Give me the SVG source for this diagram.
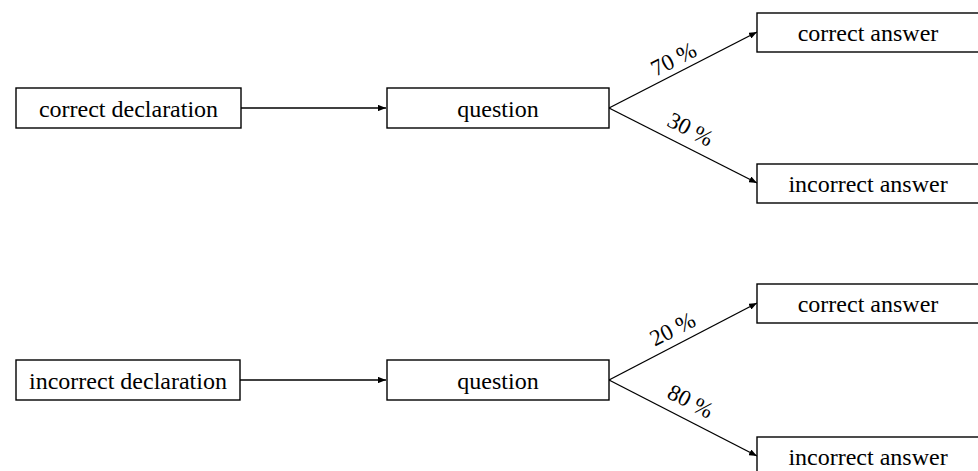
<svg xmlns="http://www.w3.org/2000/svg" width="978" height="471" viewBox="0 0 978 471">
<style>
.box{fill:#fff;stroke:#000;stroke-width:1.4}
.t{font-family:"Liberation Serif","Times New Roman",serif;font-size:24px;fill:#000;text-anchor:middle}
.p{font-family:"Liberation Serif","Times New Roman",serif;font-size:23px;fill:#000;text-anchor:middle}
.c{stroke:#000;stroke-width:1.4;fill:none;marker-end:url(#arr)}
</style>
<defs>
<marker id="arr" viewBox="0 0 10 8" refX="10" refY="4" markerWidth="8" markerHeight="6.4" markerUnits="userSpaceOnUse" orient="auto">
<path d="M0,0 L10,4 L0,8 Z" fill="#000"/>
</marker>
</defs>
<g id="connectors">
<line class="c" x1="241" y1="108" x2="386" y2="108"/>
<line class="c" x1="609" y1="108" x2="757" y2="32"/>
<line class="c" x1="609" y1="108" x2="757" y2="183"/>
<line class="c" x1="240" y1="380" x2="386" y2="380"/>
<line class="c" x1="609" y1="380" x2="757" y2="303"/>
<line class="c" x1="609" y1="380" x2="757" y2="456"/>
<text class="p" transform="translate(677,66) rotate(-27)">70 %</text>
<text class="p" transform="translate(687,136) rotate(27)">30 %</text>
<text class="p" transform="translate(676,336) rotate(-27)">20 %</text>
<text class="p" transform="translate(687,408) rotate(27)">80 %</text>
</g>
<g id="correct-declaration"><rect class="box" x="16" y="88" width="225" height="40"/><text class="t" x="128.5" y="117">correct declaration</text></g>
<g id="question-1"><rect class="box" x="387" y="88" width="222" height="40"/><text class="t" x="498" y="117">question</text></g>
<g id="correct-answer-1"><rect class="box" x="757" y="13" width="224" height="39"/><text class="t" x="868" y="41">correct answer</text></g>
<g id="incorrect-answer-1"><rect class="box" x="757" y="164" width="224" height="39"/><text class="t" x="868" y="192">incorrect answer</text></g>
<g id="incorrect-declaration"><rect class="box" x="16" y="360" width="224" height="40"/><text class="t" x="128" y="389">incorrect declaration</text></g>
<g id="question-2"><rect class="box" x="387" y="360" width="222" height="40"/><text class="t" x="498" y="389">question</text></g>
<g id="correct-answer-2"><rect class="box" x="757" y="284" width="224" height="39"/><text class="t" x="868" y="312">correct answer</text></g>
<g id="incorrect-answer-2"><rect class="box" x="757" y="437" width="224" height="39"/><text class="t" x="868" y="465">incorrect answer</text></g>
</svg>
